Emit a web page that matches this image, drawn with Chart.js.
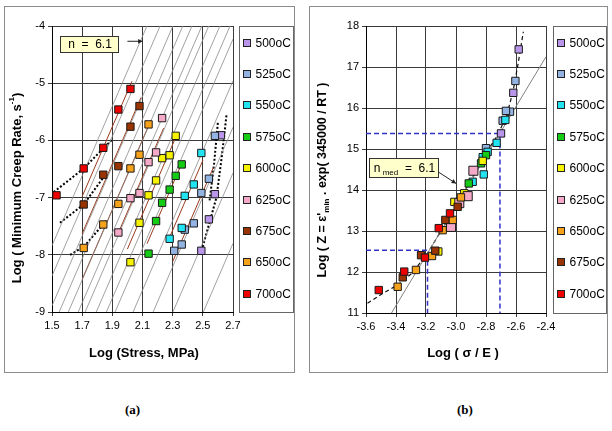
<!DOCTYPE html>
<html>
<head>
<meta charset="utf-8">
<script src="https://cdn.jsdelivr.net/npm/chart.js@4.4.1/dist/chart.umd.min.js"></script>
<style>
  body { margin: 0; background: #fff; width: 612px; height: 431px; position: relative; overflow: hidden; }
  .frame { position: absolute; border: 1px solid #8c8c8c; box-sizing: border-box; }
  canvas { position: absolute; }
  .cap { position: absolute; font: bold 13px "Liberation Serif", "Times New Roman", serif; }
</style>
</head>
<body>
<div class="frame" style="left:4px;top:6px;width:291px;height:367px"></div>
<div class="frame" style="left:309px;top:6px;width:299px;height:367px"></div>
<canvas id="chartA" width="291" height="367" style="left:4px;top:6px"></canvas>
<canvas id="chartB" width="299" height="367" style="left:309px;top:6px"></canvas>
<div class="cap" style="left:125px;top:402px">(a)</div>
<div class="cap" style="left:457px;top:402px">(b)</div>
<script>
const temps = ['500oC', '525oC', '550oC', '575oC', '600oC', '625oC', '650oC', '675oC', '700oC'];
const tempColors = ['#b996ea', '#93b4e2', '#22e3f2', '#14cc14', '#f7f200', '#f5a9c9', '#f7a21b', '#993300', '#ee0000'];

// (a) log(stress, MPa) vs log(min creep rate)
const a500 = [[2.49, -7.93], [2.54, -7.38], [2.58, -6.94], [2.62, -5.91]];
const a525 = [[2.31, -7.93], [2.36, -7.82], [2.38, -7.56], [2.44, -7.45], [2.49, -6.92], [2.54, -6.67], [2.58, -5.92]];
const a550 = [[2.28, -7.72], [2.36, -7.53], [2.38, -6.97], [2.44, -6.77], [2.49, -6.22]];
const a575 = [[2.14, -7.98], [2.19, -7.41], [2.23, -7.09], [2.28, -6.86], [2.32, -6.62], [2.36, -6.42]];
const a600 = [[2.02, -8.13], [2.08, -7.44], [2.14, -6.96], [2.19, -6.70], [2.23, -6.31], [2.28, -6.26], [2.32, -5.92]];
const a625 = [[1.94, -7.61], [2.02, -7.01], [2.08, -6.92], [2.14, -6.38], [2.19, -6.21], [2.23, -5.61]];
const a650 = [[1.71, -7.88], [1.84, -7.47], [1.94, -7.11], [2.02, -6.49], [2.08, -6.25], [2.14, -5.72]];
const a675 = [[1.71, -7.12], [1.84, -6.60], [1.94, -6.45], [2.02, -5.76], [2.08, -5.40]];
const a700 = [[1.53, -6.96], [1.71, -6.49], [1.84, -6.13], [1.94, -5.46], [2.02, -5.10]];

// (b) log(sigma/E) vs log Z
const b500 = [[-2.582, 17.43], [-2.618, 16.37], [-2.70, 15.38]];
const b525 = [[-2.604, 16.66], [-2.64, 15.91], [-2.667, 15.93], [-2.689, 15.69], [-2.80, 15.02]];
const b550 = [[-2.671, 15.71], [-2.729, 15.15], [-2.789, 14.93], [-2.822, 14.80], [-2.815, 14.38], [-2.889, 14.20]];
const b575 = [[-2.80, 14.85], [-2.833, 14.65], [-2.915, 14.16]];
const b600 = [[-2.822, 14.71], [-2.945, 13.92], [-3.011, 13.71], [-3.118, 12.50]];
const b625 = [[-2.884, 14.47], [-2.922, 13.85], [-2.978, 13.68], [-3.033, 13.10]];
const b650 = [[-2.967, 13.82], [-3.022, 13.27], [-3.089, 13.02], [-3.16, 12.39], [-3.267, 12.05], [-3.389, 11.64]];
const b675 = [[-2.989, 13.59], [-3.071, 13.27], [-3.138, 12.52], [-3.233, 12.41], [-3.355, 11.87]];
const b700 = [[-3.04, 13.43], [-3.115, 13.07], [-3.207, 12.35], [-3.345, 12.01], [-3.515, 11.56]];

const ticksAx = [1.5, 1.7, 1.9, 2.1, 2.3, 2.5, 2.7];
const ticksAy = [-9, -8, -7, -6, -5, -4];
const ticksBx = [-3.6, -3.4, -3.2, -3.0, -2.8, -2.6, -2.4];
const ticksBy = [11, 12, 13, 14, 15, 16, 17, 18];

// n = 6.1 guide lines (intercepts), per-temperature fit lines 525..700
const nSlope = 6.1;
const guideIntercepts = [-16.99, -17.52, -18.04, -18.44, -18.81, -19.21, -19.49, -19.94, -20.35, -20.70, -21.43, -22.24, -23.04, -24.27];
const fitIntercepts = [-22.15, -21.6, -20.8, -20.1, -19.45, -18.8, -18.0, -17.35];
const fitRanges = [[2.30, 2.57], [2.27, 2.50], [2.13, 2.37], [2.0, 2.32], [1.93, 2.24], [1.70, 2.15], [1.70, 2.09], [1.70, 2.03]];
const dottedA = [
  [[1.47, -6.99], [1.71, -6.49], [1.84, -6.14], [1.905, -5.97]],
  [[1.553, -7.44], [1.71, -7.12], [1.84, -6.65]],
  [[1.62, -8.0], [1.71, -7.86], [1.845, -7.45], [1.865, -7.39]],
  [[2.492, -7.93], [2.59, -7.0], [2.625, -6.3], [2.658, -5.53]],
  [[2.545, -7.05], [2.575, -6.4], [2.60, -5.68]]
];

const refLineB = [[-3.43, 11.0], [-2.4, 17.25]];
const masterCurveB = [[-3.59, 11.24], [-3.50, 11.45], [-3.39, 11.68], [-3.3, 11.95], [-3.2, 12.4], [-3.1, 13.0], [-3.0, 13.6],
  [-2.9, 14.25], [-2.8, 14.9], [-2.72, 15.35], [-2.66, 15.85], [-2.62, 16.4], [-2.585, 17.1], [-2.551, 17.86]];
const blueLowB = [[-3.6, 12.53], [-3.19, 12.53], [-3.19, 11]];
const blueHighB = [[-3.6, 15.38], [-2.707, 15.38], [-2.707, 11]];

Chart.defaults.font.family = '"Liberation Sans", Arial, sans-serif';
Chart.defaults.color = '#000';

const toXY = arr => arr.map(p => ({ x: p[0], y: p[1] }));

function pointSet(pairs, i, radius) {
  return {
    label: temps[i], data: toXY(pairs), order: 20 - i,
    pointStyle: 'rect', pointRadius: radius, pointHoverRadius: radius,
    backgroundColor: tempColors[i], borderColor: '#1a1a1a', borderWidth: 1
  };
}

function lineSet(pairs, color, width, dash) {
  return {
    data: toXY(pairs), showLine: true, pointRadius: 0, pointHoverRadius: 0,
    borderColor: color, borderWidth: width, borderDash: dash || [], order: 50, fill: false
  };
}

function axis(min, max, ticks, size, fmt, isX) {
  return {
    type: 'linear', min: min, max: max,
    afterFit: s => { if (isX) s.height = size; else s.width = size; },
    afterBuildTicks: s => { s.ticks = ticks.map(v => ({ value: v })); },
    grid: { color: '#3a3a3a', lineWidth: 1, tickLength: 4 },
    border: { color: '#000' },
    ticks: { font: { size: 11 }, color: '#000', padding: 3, callback: fmt }
  };
}

function drawRuns(ctx, runs, x, y, rotate) {
  ctx.save();
  ctx.translate(x, y);
  if (rotate) ctx.rotate(-Math.PI / 2);
  let total = 0;
  runs.forEach(r => {
    ctx.font = (r.bold ? 'bold ' : '') + r.size + 'px "Liberation Sans", Arial, sans-serif';
    r.w = ctx.measureText(r.t).width;
    total += r.w;
  });
  let cx = -total / 2;
  ctx.textBaseline = 'middle';
  ctx.textAlign = 'left';
  ctx.fillStyle = '#000';
  runs.forEach(r => {
    ctx.font = (r.bold ? 'bold ' : '') + r.size + 'px "Liberation Sans", Arial, sans-serif';
    ctx.fillText(r.t, cx, r.dy || 0);
    cx += r.w;
  });
  ctx.restore();
}

function drawArrow(ctx, x1, y1, x2, y2) {
  ctx.beginPath(); ctx.moveTo(x1, y1); ctx.lineTo(x2, y2); ctx.stroke();
  const a = Math.atan2(y2 - y1, x2 - x1), L = 5;
  ctx.beginPath();
  ctx.moveTo(x2, y2);
  ctx.lineTo(x2 - L * Math.cos(a - 0.5), y2 - L * Math.sin(a - 0.5));
  ctx.lineTo(x2 - L * Math.cos(a + 0.5), y2 - L * Math.sin(a + 0.5));
  ctx.closePath(); ctx.fill();
}

// legend box, titles and the n annotation
function paperPlugin(cfg) {
  return {
    id: 'paper',
    afterDraw(chart) {
      const ctx = chart.ctx, area = chart.chartArea, sx = chart.scales.x, sy = chart.scales.y;
      ctx.save();
      // legend
      const lx = area.right + cfg.legendGap;
      ctx.fillStyle = '#fff';
      ctx.fillRect(lx, area.top, chart.width - 1 - lx, area.bottom - area.top);
      ctx.strokeStyle = '#666'; ctx.lineWidth = 1;
      ctx.strokeRect(lx + 0.5, area.top + 0.5, chart.width - 2 - lx, area.bottom - area.top);
      ctx.font = '12px "Liberation Sans", Arial, sans-serif';
      ctx.textBaseline = 'middle'; ctx.textAlign = 'left';
      cfg.legendOrder.forEach((ti, k) => {
        const y = Math.round(area.top + 16.5 + 31.4 * k);
        const mx = Math.round(area.right + cfg.markerDx);
        ctx.fillStyle = tempColors[ti];
        ctx.fillRect(mx - 3, y - 3, 6, 6);
        ctx.strokeStyle = '#222';
        ctx.strokeRect(mx - 3.5, y - 3.5, 7, 7);
        ctx.fillStyle = '#000';
        ctx.fillText(temps[ti], area.right + cfg.textDx, y + 1);
      });
      // annotation
      const bx = sx.getPixelForValue(cfg.box[0]), by = sy.getPixelForValue(cfg.box[1]);
      ctx.strokeStyle = '#222'; ctx.fillStyle = '#222'; ctx.lineWidth = 1;
      drawArrow(ctx, sx.getPixelForValue(cfg.arrow[0]), sy.getPixelForValue(cfg.arrow[1]),
        sx.getPixelForValue(cfg.arrow[2]), sy.getPixelForValue(cfg.arrow[3]));
      ctx.fillStyle = '#ffffcc';
      ctx.fillRect(Math.round(bx), Math.round(by), cfg.boxW, cfg.boxH);
      ctx.strokeStyle = '#333';
      ctx.strokeRect(Math.round(bx) + 0.5, Math.round(by) + 0.5, cfg.boxW, cfg.boxH);
      drawRuns(ctx, cfg.boxText, Math.round(bx) + cfg.boxW / 2 + 1, Math.round(by) + cfg.boxH / 2 + 1, false);
      // axis titles
      drawRuns(ctx, cfg.yTitle, cfg.yTitleX, area.top + cfg.yTitleDy, true);
      drawRuns(ctx, cfg.xTitle, area.left + cfg.xTitleDx, cfg.xTitleY, false);
      ctx.restore();
    }
  };
}

const baseOptions = (padRight, scales) => ({
  responsive: false, animation: false, events: [],
  layout: { padding: { left: 0, top: 20, right: padRight, bottom: 0 } },
  plugins: { legend: { display: false }, tooltip: { enabled: false } },
  scales: scales
});

// chart (a)
const setsA = [a500, a525, a550, a575, a600, a625, a650, a675, a700].map((d, i) => pointSet(d, i, 5.2));
guideIntercepts.forEach(c => {
  setsA.push(lineSet([[1.5, nSlope * 1.5 + c], [2.7, nSlope * 2.7 + c]], '#8a8a8a', 0.8));
});
fitIntercepts.forEach((c, k) => {
  const r = fitRanges[k];
  setsA.push(lineSet([[r[0], nSlope * r[0] + c], [r[1], nSlope * r[1] + c]], '#9a3b1c', 1));
});
dottedA.forEach(d => setsA.push(lineSet(d, '#000', 2, [2, 2])));

new Chart(document.getElementById('chartA'), {
  type: 'scatter',
  data: { datasets: setsA },
  options: baseOptions(62, {
    x: axis(1.5, 2.7, ticksAx, 61, v => v.toFixed(1), true),
    y: axis(-9, -4, ticksAy, 48, v => String(v), false)
  }),
  plugins: [paperPlugin({
    legendGap: 6, markerDx: 14, textDx: 22.5,
    legendOrder: [0, 1, 2, 3, 4, 5, 7, 6, 8],
    box: [1.553, -4.175], boxW: 58, boxH: 16,
    arrow: [2.0, -4.267, 2.1, -4.267],
    boxText: [{ t: 'n  =  6.1', size: 12 }],
    yTitle: [{ t: 'Log ( Minimum Creep Rate, s', size: 13, bold: true }, { t: '-1', size: 8, bold: true, dy: -5 }, { t: ')', size: 13, bold: true }],
    yTitleX: 13, yTitleDy: 162,
    xTitle: [{ t: 'Log (Stress, MPa)', size: 13, bold: true }],
    xTitleDx: 92, xTitleY: 347
  })]
});

// chart (b)
const setsB = [b500, b525, b550, b575, b600, b625, b650, b675, b700].map((d, i) => pointSet(d, i, i === 5 ? 6.4 : 5.2));
setsB.push(lineSet(refLineB, '#808080', 1));
setsB.push(lineSet(masterCurveB, '#111', 1.2, [4, 3]));
setsB.push(lineSet(blueLowB, '#3232c8', 1.5, [5, 3]));
setsB.push(lineSet(blueHighB, '#3232c8', 1.5, [5, 3]));

new Chart(document.getElementById('chartB'), {
  type: 'scatter',
  data: { datasets: setsB },
  options: baseOptions(62, {
    x: axis(-3.6, -2.4, ticksBx, 60, v => v.toFixed(1), true),
    y: axis(11, 18, ticksBy, 57, v => String(v), false)
  }),
  plugins: [paperPlugin({
    legendGap: 7, markerDx: 15, textDx: 23.5,
    legendOrder: [0, 1, 2, 3, 4, 5, 6, 7, 8],
    box: [-3.58, 14.78], boxW: 69, boxH: 19,
    arrow: [-3.122, 14.45, -3.0, 14.16],
    boxText: [{ t: 'n', size: 12 }, { t: ' med', size: 8, dy: 4 }, { t: '  =  6.1', size: 12 }],
    yTitle: [{ t: "Log ( Z = \u03b5'", size: 12.5, bold: true }, { t: 'min', size: 8, bold: true, dy: 4 }, { t: ' . exp( 345000 / RT )', size: 12.5, bold: true }],
    yTitleX: 14, yTitleDy: 154,
    xTitle: [{ t: 'Log ( \u03c3 / E )', size: 13, bold: true }],
    xTitleDx: 97, xTitleY: 347
  })]
});
</script>
</body>
</html>
